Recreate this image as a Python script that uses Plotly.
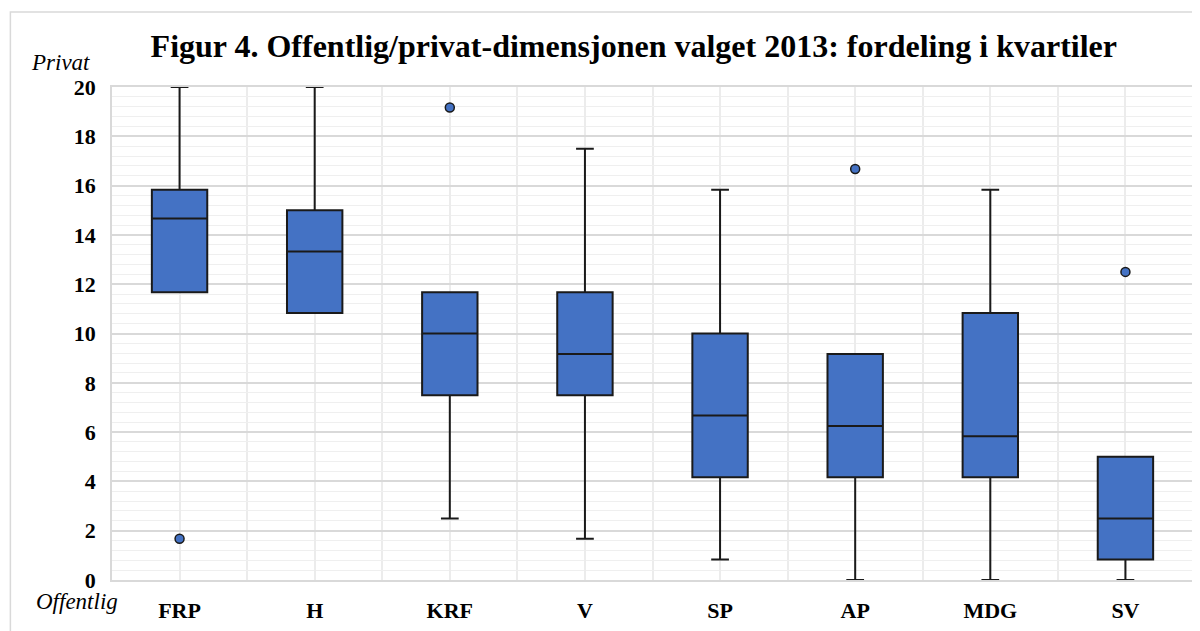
"""Figur 4: Offentlig/privat-dimensjonen valget 2013, boksplott per parti."""

import plotly.graph_objects as go

parties = ["FRP", "H", "KRF", "V", "SP", "AP", "MDG", "SV"]
lower = [11.67, 10.83, 2.5, 1.67, 0.83, 0.0, 0.0, 0.0]
q1 = [11.67, 10.83, 7.5, 7.5, 4.17, 4.17, 4.17, 0.83]
median = [14.67, 13.33, 10.0, 9.17, 6.67, 6.25, 5.83, 2.5]
q3 = [15.83, 15.0, 11.67, 11.67, 10.0, 9.17, 10.83, 5.0]
upper = [20.0, 20.0, 11.67, 17.5, 15.83, 9.17, 15.83, 5.0]

outlier_party = ["FRP", "KRF", "AP", "SV"]
outlier_value = [1.67, 19.17, 16.67, 12.5]

BLUE = "#4472C4"
SERIF = "Liberation Serif, Times New Roman, serif"

pos = list(range(len(parties)))

fig = go.Figure()
fig.add_trace(go.Box(
    x=pos,
    q1=q1, median=median, q3=q3,
    lowerfence=lower, upperfence=upper,
    fillcolor=BLUE,
    line=dict(color="#1a1a1a", width=2),
    width=0.41,
    whiskerwidth=0.32,
    boxpoints=False,
    showlegend=False,
))
fig.add_trace(go.Scatter(
    x=[parties.index(p) for p in outlier_party],
    y=outlier_value,
    mode="markers",
    marker=dict(size=9, color=BLUE, line=dict(color="#1a1a1a", width=1.5)),
    showlegend=False,
))

# light frame around the whole chart
fig.add_shape(type="rect", xref="paper", yref="paper",
              x0=-0.094, x1=1.02, y0=-0.2, y1=1.152,
              line=dict(color="#d9d9d9", width=1.5), layer="below")

fig.add_annotation(text="<i>Privat</i>", xref="paper", yref="paper",
                   x=-0.0185, y=1.02, xanchor="right", yanchor="bottom",
                   showarrow=False, font=dict(family=SERIF, size=23, color="#000"))
fig.add_annotation(text="<i>Offentlig</i>", xref="paper", yref="paper",
                   x=0.0074, y=-0.015, xanchor="right", yanchor="top",
                   showarrow=False, font=dict(family=SERIF, size=23, color="#000"))

fig.update_layout(
    title=dict(
        text="<b>Figur 4. Offentlig/privat-dimensjonen valget 2013: fordeling i kvartiler</b>",
        x=0.525, xanchor="center", y=0.94, yanchor="middle",
        font=dict(family=SERIF, size=32, color="#000"),
    ),
    width=1192, height=623,
    margin=dict(l=104, r=5, t=79, b=51),
    paper_bgcolor="white",
    plot_bgcolor="white",
    font=dict(family=SERIF, color="#000"),
    xaxis=dict(
        range=[-0.5, 7.5],
        tickmode="array", tickvals=pos, ticktext=[f"<b>{p}</b>" for p in parties],
        tickfont=dict(size=22),
        showgrid=True, gridcolor="#ececec", gridwidth=1.5,
        minor=dict(tick0=-0.5, dtick=1, showgrid=True, gridcolor="#ececec", gridwidth=1.5),
        zeroline=False, showline=True, linecolor="#d9d9d9", linewidth=1.5,
        mirror=True, ticks="", ticklabelstandoff=10,
        fixedrange=True,
    ),
    yaxis=dict(
        range=[0, 20],
        tickmode="linear", tick0=0, dtick=2,
        tickfont=dict(size=22),
        tickprefix="<b>", ticksuffix="</b>",
        showgrid=True, gridcolor="#d9d9d9", gridwidth=1.5,
        minor=dict(dtick=0.4, showgrid=True, gridcolor="#efefef", gridwidth=1.2),
        zeroline=False, showline=True, linecolor="#d9d9d9", linewidth=1.5,
        mirror=True, ticks="", ticklabelstandoff=10,
        fixedrange=True,
    ),
)

fig.write_html("out.html")
